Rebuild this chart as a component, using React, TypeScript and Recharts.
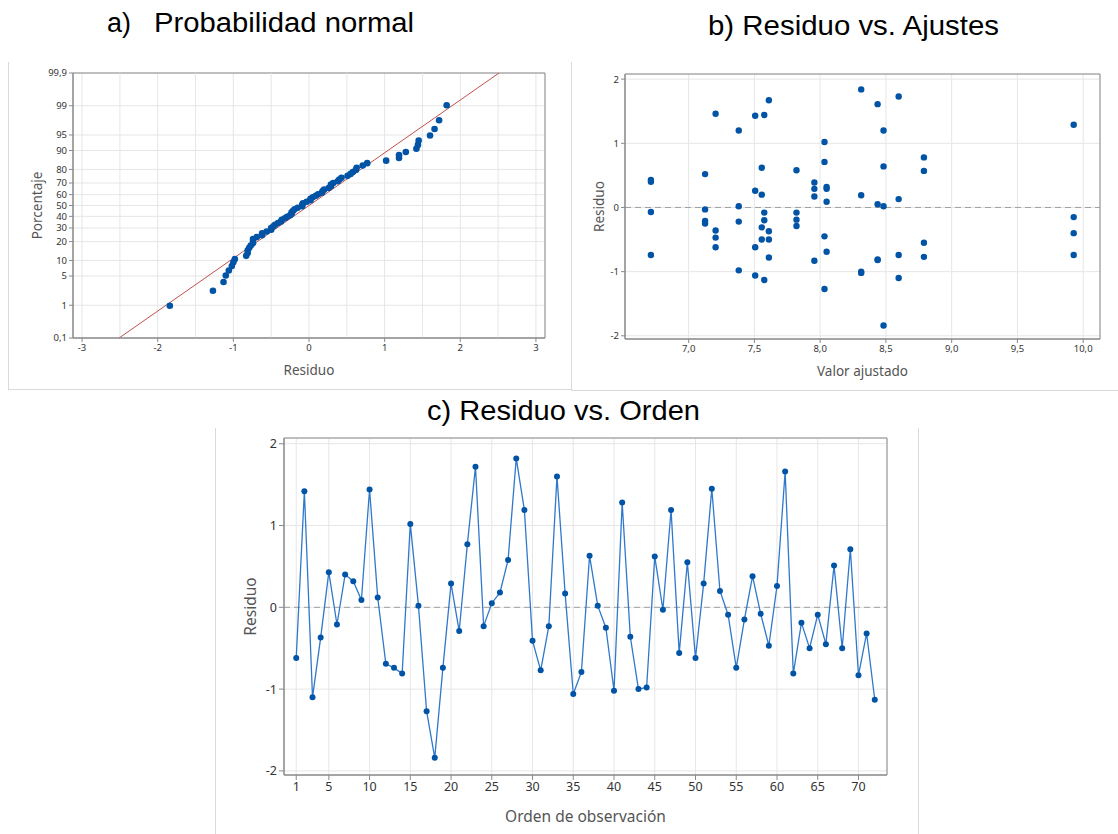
import {
  CartesianGrid,
  Line,
  LineChart,
  ReferenceArea,
  ReferenceLine,
  Scatter,
  ScatterChart,
  XAxis,
  YAxis,
} from "recharts"

const orderResiduals = [
  -0.62, 1.42, -1.1, -0.37, 0.43, -0.21, 0.4, 0.32, 0.09, 1.44,
  0.12, -0.69, -0.74, -0.81, 1.02, 0.02, -1.27, -1.84, -0.74, 0.29,
  -0.29, 0.77, 1.72, -0.23, 0.05, 0.18, 0.58, 1.82, 1.19, -0.41,
  -0.77, -0.23, 1.6, 0.17, -1.06, -0.79, 0.63, 0.02, -0.25, -1.02,
  1.28, -0.36, -1.0, -0.98, 0.62, -0.03, 1.19, -0.56, 0.55, -0.62,
  0.29, 1.45, 0.2, -0.09, -0.74, -0.15, 0.38, -0.08, -0.47, 0.26,
  1.66, -0.81, -0.19, -0.5, -0.09, -0.45, 0.51, -0.5, 0.71, -0.83,
  -0.32, -1.13,
]

// panel b: fitted levels and the residuals found at each one
const fitLevels = [
  6.713, 7.125, 7.205, 7.381, 7.506, 7.556, 7.575, 7.61, 7.82,
  7.956, 8.033, 8.049, 8.312, 8.437, 8.482, 8.597, 8.789, 9.928,
]
const residualsAtLevel = [
  [0.43, 0.4, -0.07, -0.74],
  [0.52, -0.03, -0.21, -0.25],
  [1.46, -0.36, -0.47, -0.62],
  [1.2, 0.02, -0.22, -0.98],
  [1.43, 0.26, -0.62, -1.06],
  [0.62, 0.2, -0.31, -0.5],
  [1.44, -0.08, -0.2, -1.13],
  [1.67, -0.37, -0.5, -0.78],
  [0.58, -0.08, -0.19, -0.29],
  [0.39, 0.29, 0.17, -0.83],
  [1.02, 0.71, -0.45, -1.27],
  [0.32, 0.29, 0.09, -0.69],
  [1.84, 0.19, -1.0, -1.02],
  [1.61, 0.05, -0.81, -0.82],
  [1.2, 0.64, 0.02, -1.84],
  [1.73, 0.13, -0.74, -1.1],
  [0.78, 0.57, -0.55, -0.77],
  [1.29, -0.15, -0.4, -0.74],
]

const percentTicks = [0.1, 1, 5, 10, 20, 30, 40, 50, 60, 70, 80, 90, 95, 99, 99.9]
const percentLabels = ["0,1", "1", "5", "10", "20", "30", "40", "50", "60", "70", "80", "90", "95", "99", "99,9"]
const residTicksA = [-3, -2, -1, 0, 1, 2, 3]
const residHalfGrid = [-2.5, -1.5, -0.5, 0.5, 1.5, 2.5]
const fitTicks = [7, 7.5, 8, 8.5, 9, 9.5, 10]
const residTicks = [-2, -1, 0, 1, 2]
const orderTicks = [1, 5, 10, 15, 20, 25, 30, 35, 40, 45, 50, 55, 60, 65, 70]

// inverse normal cdf (Acklam)
function probit(p: number) {
  const a = [-39.69683028665376, 220.9460984245205, -275.9285104469687, 138.357751867269, -30.66479806614716, 2.506628277459239]
  const b = [-54.47609879822406, 161.5858368580409, -155.6989798598866, 66.80131188771972, -13.28068155288572]
  const c = [-0.007784894002430293, -0.3223964580411365, -2.400758277161838, -2.549732539343734, 4.374664141464968, 2.938163982698783]
  const d = [0.007784695709041462, 0.3224671290700398, 2.445134137142996, 3.754408661907416]
  const lo = 0.02425
  if (p < lo) {
    const q = Math.sqrt(-2 * Math.log(p))
    return (((((c[0] * q + c[1]) * q + c[2]) * q + c[3]) * q + c[4]) * q + c[5]) / ((((d[0] * q + d[1]) * q + d[2]) * q + d[3]) * q + 1)
  }
  if (p <= 1 - lo) {
    const q = p - 0.5
    const r = q * q
    return ((((((a[0] * r + a[1]) * r + a[2]) * r + a[3]) * r + a[4]) * r + a[5]) * q) / (((((b[0] * r + b[1]) * r + b[2]) * r + b[3]) * r + b[4]) * r + 1)
  }
  const q = Math.sqrt(-2 * Math.log(1 - p))
  return -(((((c[0] * q + c[1]) * q + c[2]) * q + c[3]) * q + c[4]) * q + c[5]) / ((((d[0] * q + d[1]) * q + d[2]) * q + d[3]) * q + 1)
}

const zTicks = percentTicks.map((p) => probit(p / 100))
const zMin = zTicks[0]
const zMax = zTicks[zTicks.length - 1]

const sortedRes = [...orderResiduals].sort((a, b) => a - b)
const nRes = sortedRes.length
const probData = sortedRes.map((r, i) => ({ x: r, z: probit((i + 1 - 0.3) / (nRes + 0.4)) }))
const resMean = orderResiduals.reduce((s, v) => s + v, 0) / nRes
const resSd = Math.sqrt(orderResiduals.reduce((s, v) => s + (v - resMean) ** 2, 0) / (nRes - 1))

const fitData = fitLevels.flatMap((f, i) => residualsAtLevel[i].map((r) => ({ fit: f, res: r })))
const orderData = orderResiduals.map((r, i) => ({ obs: i + 1, res: r }))

const FONT = "'Noto Sans', 'Open Sans', sans-serif"
const DOT = "#0053a5"
const GRID = "#e6e6e6"
const FRAME = "#8a8a8a"
const PANEL = "#d9d9d9"

const tickA = { fontSize: 9.5, fill: "#333", fontFamily: FONT }
const tickC = { fontSize: 12.5, fill: "#333", fontFamily: FONT }
const labelA = { fontSize: 13.5, fill: "#555", fontFamily: FONT }
const labelC = { fontSize: 15.5, fill: "#555", fontFamily: FONT }

const comma = (v: number) => v.toFixed(1).replace(".", ",")
const pctLabel = (v: number) => {
  let best = 0
  zTicks.forEach((z, i) => {
    if (Math.abs(z - v) < Math.abs(zTicks[best] - v)) best = i
  })
  return percentLabels[best]
}

const dotShape = (r: number) => (props: any) => <circle cx={props.cx} cy={props.cy} r={r} fill={DOT} />

const ProbPlot = () => (
  <ScatterChart width={562} height={327} margin={{ top: 11, right: 19, bottom: 0, left: 0 }}>
    <CartesianGrid stroke={GRID} />
    {residHalfGrid.map((v) => (
      <ReferenceLine key={v} x={v} stroke={GRID} />
    ))}
    <XAxis
      type="number"
      dataKey="x"
      domain={[-3.12, 3.12]}
      ticks={residTicksA}
      interval={0}
      tick={tickA}
      tickSize={4}
      height={51}
      stroke={FRAME}
      label={{ value: "Residuo", position: "insideBottom", offset: 14, style: labelA }}
    />
    <YAxis
      type="number"
      dataKey="z"
      domain={[zMin, zMax]}
      ticks={zTicks}
      interval={0}
      tickFormatter={pctLabel}
      tick={tickA}
      tickSize={4}
      width={71}
      stroke={FRAME}
      label={{ value: "Porcentaje", angle: -90, position: "center", style: labelA }}
    />
    <ReferenceArea x1={-3.12} x2={3.12} y1={zMin} y2={zMax} stroke={FRAME} fillOpacity={0} />
    <ReferenceLine
      segment={[
        { x: resMean + resSd * zMin, y: zMin },
        { x: resMean + resSd * zMax, y: zMax },
      ]}
      stroke="#c0504d"
      strokeWidth={1}
    />
    <Scatter data={probData} shape={dotShape(3.3)} isAnimationActive={false} />
  </ScatterChart>
)

const FitPlot = () => (
  <ScatterChart width={536} height={328} margin={{ top: 12, right: 10, bottom: 0, left: 0 }}>
    <CartesianGrid stroke={GRID} />
    <XAxis
      type="number"
      dataKey="fit"
      domain={[6.516, 10.128]}
      ticks={fitTicks}
      interval={0}
      tickFormatter={comma}
      tick={tickA}
      tickSize={4}
      height={51}
      stroke={FRAME}
      label={{ value: "Valor ajustado", position: "insideBottom", offset: 14, style: labelA }}
    />
    <YAxis
      type="number"
      dataKey="res"
      domain={[-2.05, 2.08]}
      ticks={residTicks}
      interval={0}
      tick={tickA}
      tickSize={4}
      width={51}
      stroke={FRAME}
      label={{ value: "Residuo", angle: -90, position: "center", style: labelA }}
    />
    <ReferenceArea x1={6.516} x2={10.128} y1={-2.05} y2={2.08} stroke={FRAME} fillOpacity={0} />
    <ReferenceLine y={0} stroke="#a0a0a0" strokeDasharray="6 4" />
    <Scatter data={fitData} shape={dotShape(3.2)} isAnimationActive={false} />
  </ScatterChart>
)

const OrderPlot = () => (
  <LineChart width={689} height={404} data={orderData} margin={{ top: 8, right: 18, bottom: 0, left: 0 }}>
    <CartesianGrid stroke={GRID} />
    <XAxis
      type="number"
      dataKey="obs"
      domain={[-0.5, 73.5]}
      ticks={orderTicks}
      interval={0}
      tick={tickC}
      tickSize={5}
      height={59}
      stroke={FRAME}
      label={{ value: "Orden de observación", position: "insideBottom", offset: 12, style: labelC }}
    />
    <YAxis
      type="number"
      domain={[-2.05, 2.07]}
      ticks={residTicks}
      interval={0}
      tick={tickC}
      tickSize={5}
      width={68}
      stroke={FRAME}
      label={{ value: "Residuo", angle: -90, position: "center", style: labelC }}
    />
    <ReferenceArea x1={-0.5} x2={73.5} y1={-2.05} y2={2.07} stroke={FRAME} fillOpacity={0} />
    <ReferenceLine y={0} stroke="#a0a0a0" strokeDasharray="6 4" />
    <Line
      type="linear"
      dataKey="res"
      stroke="#2f78cc"
      strokeWidth={1.3}
      dot={dotShape(3)}
      activeDot={false}
      isAnimationActive={false}
    />
  </LineChart>
)

const titleStyle = { fontFamily: "'Liberation Sans', Arial, sans-serif", fill: "#000" }

export default function App() {
  return (
    <div style={{ position: "fixed", left: 0, top: 0, width: 1118, height: 834, background: "#fff" }}>
      <svg width={1118} height={834} style={{ position: "absolute", left: 0, top: 0 }}>
        <text x={107} y={32} fontSize={27} style={titleStyle}>a)</text>
        <text x={154} y={32} fontSize={27} textLength={260} lengthAdjust="spacingAndGlyphs" style={titleStyle}>
          Probabilidad normal
        </text>
        <text x={708} y={35} fontSize={28} textLength={291} lengthAdjust="spacingAndGlyphs" style={titleStyle}>
          b) Residuo vs. Ajustes
        </text>
        <text x={427} y={420} fontSize={28} textLength={273} lengthAdjust="spacingAndGlyphs" style={titleStyle}>
          c) Residuo vs. Orden
        </text>
        <line x1={8.5} y1={62} x2={8.5} y2={389} stroke={PANEL} />
        <line x1={8} y1={389.5} x2={571} y2={389.5} stroke={PANEL} />
        <line x1={571.5} y1={62} x2={571.5} y2={390} stroke={PANEL} />
        <line x1={571} y1={390.5} x2={1118} y2={390.5} stroke={PANEL} />
        <line x1={215.5} y1={428} x2={215.5} y2={834} stroke={PANEL} />
        <line x1={918.5} y1={428} x2={918.5} y2={834} stroke={PANEL} />
      </svg>
      <div style={{ position: "absolute", left: 2, top: 62 }}>
        <ProbPlot />
      </div>
      <div style={{ position: "absolute", left: 574, top: 62 }}>
        <FitPlot />
      </div>
      <div style={{ position: "absolute", left: 216, top: 430 }}>
        <OrderPlot />
      </div>
    </div>
  )
}
